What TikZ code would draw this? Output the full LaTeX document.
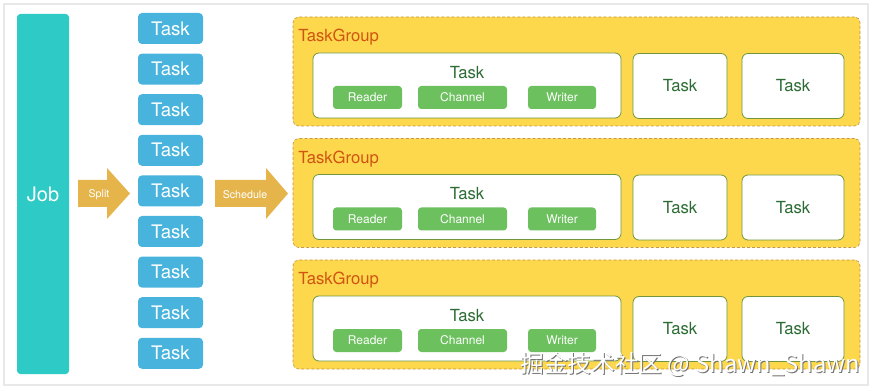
\documentclass[tikz,border=0pt]{standalone}
\usepackage{fontspec}
\setmainfont{TeX Gyre Heros}
\newfontfamily\cjkfont{Noto Sans CJK SC}
\usetikzlibrary{positioning}
\definecolor{jobteal}{RGB}{45,202,198}
\definecolor{taskblue}{RGB}{72,180,221}
\definecolor{grpyellow}{RGB}{253,215,76}
\definecolor{grpedge}{RGB}{196,152,70}
\definecolor{rwgreen}{RGB}{108,192,94}
\definecolor{tkgreen}{RGB}{44,108,52}
\definecolor{tkedge}{RGB}{112,150,60}
\definecolor{grplab}{RGB}{208,84,18}
\definecolor{arrgold}{RGB}{229,181,76}
\tikzset{
  jobbox/.style={fill=jobteal, rounded corners=2.5pt, minimum width=39pt, minimum height=270pt,
      text=white, font=\fontsize{15}{18}\selectfont},
  tskbox/.style={fill=taskblue, rounded corners=3pt, minimum width=48.75pt, minimum height=23.25pt,
      text=white, font=\fontsize{14}{16}\selectfont},
  grpbox/.style={fill=grpyellow, draw=grpedge, dash pattern=on 2.2pt off 1.6pt, line width=0.5pt,
      rounded corners=4pt, minimum width=425.25pt, minimum height=81.75pt},
  grplabel/.style={anchor=west, text=grplab, font=\fontsize{12.5}{14}\selectfont, inner sep=0pt},
  wbox/.style={fill=white, draw=tkedge, line width=0.6pt, rounded corners=4.5pt, minimum height=48.75pt,
      text=tkgreen, font=\fontsize{12.5}{14}\selectfont},
  tklabel/.style={text=tkgreen, font=\fontsize{12.5}{14}\selectfont, inner sep=0pt},
  rwbox/.style={fill=rwgreen, rounded corners=2.5pt, minimum height=17.25pt, inner sep=0pt,
      text=white, font=\fontsize{9}{10}\selectfont},
  barr/.style={fill=arrgold},
  barlab/.style={text=white, font=\fontsize{8}{9}\selectfont, inner sep=0pt},
  wmark/.style={anchor=west, inner sep=0pt, font=\cjkfont\fontsize{17.8}{20}\selectfont},
}
\begin{document}
\begin{tikzpicture}[x=0.75pt, y=-0.75pt]
\useasboundingbox (0,0) rectangle (873,391);
\draw[gray!18, line width=0.8pt] (4,4) rectangle (868,385);
%---- job and its tasks
\node[jobbox] (job) at (43,194) {Job};
\foreach \i in {0,...,8}
  \node[tskbox] (task\i) at (170.5,28.5+40.6*\i) {Task};
%---- block arrows
\fill[barr] (78,180) -- (107,180) -- (107,168) -- (130,193.5) -- (107,219) -- (107,207) -- (78,207) -- cycle;
\node[barlab] (split) at (99,195) {Split};
\fill[barr] (215,180) -- (266,180) -- (266,168) -- (288,193.5) -- (266,219) -- (266,207) -- (215,207) -- cycle;
\node[barlab] (sched) at (245,195) {Schedule};
%---- task groups
\foreach \g [evaluate=\g as \gy using 71.5+121.5*(\g-1)] in {1,2,3} {
  \node[grpbox] (grp\g) at (576.5,\gy) {};
  \node[grplabel] (glab\g) at (298,\gy-34) {TaskGroup};
  \node[wbox, minimum width=231pt] (big\g) at (467,\gy+14) {};
  \node[tklabel] (btask\g) at (467,\gy+1) {Task};
  \foreach \nm/\cx/\w in {Reader/367.5/51.75pt, Channel/462.5/66.75pt, Writer/562/51pt}
    \node[rwbox, minimum width=\w] (\nm\g) at (\cx,\gy+26) {\nm};
  \foreach \cx/\w [count=\k] in {680/70.5pt, 793/76.5pt}
    \node[wbox, minimum width=\w] (stask\g\k) at (\cx,\gy+14.5) {Task};
}
%---- watermark
\node[wmark, text=black!55] (wmshade) at (521,365) {掘金技术社区 @ Shawn\_Shawn};
\node[wmark, text=white] (wm) at (520,364) {掘金技术社区 @ Shawn\_Shawn};
\end{tikzpicture}
\end{document}
